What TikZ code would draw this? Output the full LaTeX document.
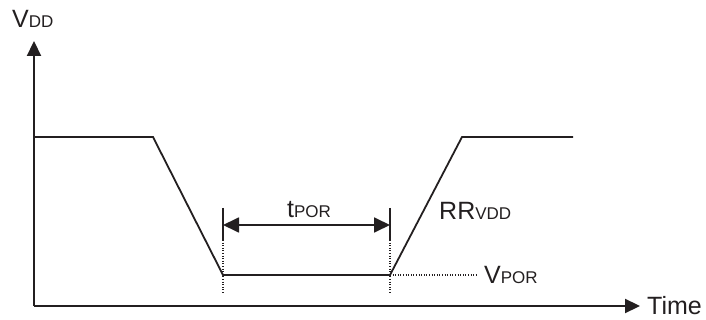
\documentclass[tikz,border=0pt]{standalone}
\usepackage{fontspec}
\setmainfont{Liberation Sans}
\usetikzlibrary{arrows.meta}
\usetikzlibrary{positioning}
\definecolor{ink}{HTML}{231F20}
\newcommand{\subtxt}[1]{{\fontsize{17}{17}\selectfont #1}}

\begin{document}
\begin{tikzpicture}[x=1pt,y=-1pt]
			\tikzset{axis/.style = {-{Triangle[length=15pt,width=14pt]}, line width=2.2pt, ink}}
			\tikzset{wave/.style = {line width=1.8pt, ink}}
			\tikzset{span/.style = {{Triangle[length=16pt,width=15pt]}-{Triangle[length=16pt,width=15pt]}, line width=1.8pt, ink}}
			\tikzset{guide/.style = {dash pattern=on 1pt off 1.6pt, line width=1.1pt, ink}}
			\tikzset{lbl/.style = {font=\fontsize{25}{25}\selectfont, text=ink, inner sep=0pt}}
			
			\useasboundingbox (0,0) rectangle (706,320);
			
			% points
			\coordinate (o) at (34,306);
			\coordinate (ytop) at (34,41);
			\coordinate (xend) at (640,306);
			\coordinate (h0) at (34,137);
			\coordinate (f0) at (153,137);
			\coordinate (lowL) at (223,275);
			\coordinate (lowR) at (390,275);
			\coordinate (r1) at (462,137);
			\coordinate (h1) at (573,137);
			\coordinate (tLtop) at (223,208);
			\coordinate (tLmid) at (223,240);
			\coordinate (tLbot) at (223,294);
			\coordinate (tRtop) at (390,208);
			\coordinate (tRmid) at (390,240);
			\coordinate (tRbot) at (390,294);
			\coordinate (sL) at (223,225);
			\coordinate (sR) at (390,225);
			\coordinate (vpend) at (477,275);
			
			% labels
			\node[lbl, anchor=base west] (vdd) at (12,28) {V\subtxt{DD}};
			\node[lbl, right=7pt of xend] (time) {Time};
			\node[lbl, anchor=base] (tpor) at (309,218) {t\subtxt{POR}};
			\node[lbl, anchor=base west] (rr) at (439,220) {RR\subtxt{VDD}};
			\node[lbl, right=7pt of vpend] (vpor) {V\subtxt{POR}};
			
			% lines
			\draw[axis] (o) to (ytop);
			\draw[axis] (o) to (xend);
			\draw[wave] (h0) -- (f0) -- (lowL) -- (lowR) -- (r1) -- (h1);
			\draw[wave] (tLtop) to (tLmid);
			\draw[wave] (tRtop) to (tRmid);
			\draw[guide] (tLmid) to (tLbot);
			\draw[guide] (tRmid) to (tRbot);
			\draw[guide] (lowR) to (vpend);
			\draw[span] (sL) to (sR);
			
\end{tikzpicture}
\end{document}
